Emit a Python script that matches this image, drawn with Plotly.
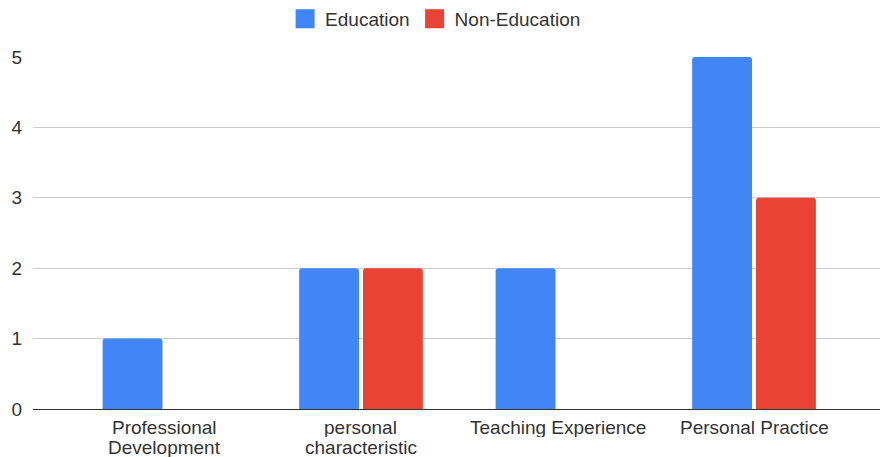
import plotly.graph_objects as go

categories = ["Professional Development", "personal characteristic",
              "Teaching Experience", "Personal Practice"]
tick_lines = [["Professional", "Development"], ["personal", "characteristic"],
              ["Teaching Experience"], ["Personal Practice"]]
series_names = ["Education", "Non-Education"]
series_colors = ["#4285F4", "#EA4335"]
education = [1, 2, 2, 5]
non_education = [None, 2, None, 3]
y_ticks = [0, 1, 2, 3, 4, 5]

FONT = "Liberation Sans, Arial, sans-serif"
TEXT = "#333333"
x_pos = list(range(len(categories)))

fig = go.Figure()
for name, color, values in zip(series_names, series_colors, [education, non_education]):
    fig.add_trace(go.Bar(name=name, x=x_pos, y=values, legendgroup=name,
                         showlegend=False, hovertext=categories,
                         marker=dict(color=color, cornerradius=3, line=dict(width=0))))
    # larger square swatch for the legend entry
    fig.add_trace(go.Scatter(name=name, x=[None], y=[None], mode="markers",
                             legendgroup=name, showlegend=True,
                             marker=dict(symbol="square", size=16, color=color,
                                         line=dict(color=color, width=3))))

# category labels, one annotation per text line for tight line spacing
for i, lines in enumerate(tick_lines):
    for k, line in enumerate(lines):
        fig.add_annotation(x=x_pos[i], y=0, xref="x", yref="y", text=line,
                           showarrow=False, xanchor="center", yanchor="middle",
                           height=20, yshift=-18 - 20 * k,
                           font=dict(family=FONT, size=19, color=TEXT))

fig.update_layout(
    width=880, height=457,
    margin=dict(l=33, r=0, t=57, b=48),
    paper_bgcolor="white", plot_bgcolor="white",
    barmode="group", bargap=0.35, bargroupgap=0.0625,
    font=dict(family=FONT, size=19, color=TEXT),
    showlegend=True,
    legend=dict(orientation="h", xref="container", yref="container",
                x=0.495, xanchor="center", y=1.0, yanchor="top",
                font=dict(size=19, color=TEXT), itemwidth=30,
                traceorder="normal", itemsizing="trace"),
    xaxis=dict(tickmode="array", tickvals=x_pos, showticklabels=False,
               range=[-0.669, 3.641], showgrid=False, ticks="",
               showline=False, zeroline=False, fixedrange=True),
    yaxis=dict(range=[0, 5], tickmode="array", tickvals=y_ticks,
               showgrid=True, gridcolor="#CCCCCC", gridwidth=1,
               zeroline=True, zerolinecolor="#333333", zerolinewidth=1,
               showline=False, ticks="", ticklabelstandoff=10,
               tickfont=dict(size=19, color=TEXT)),
)

fig.write_html("out.html")
